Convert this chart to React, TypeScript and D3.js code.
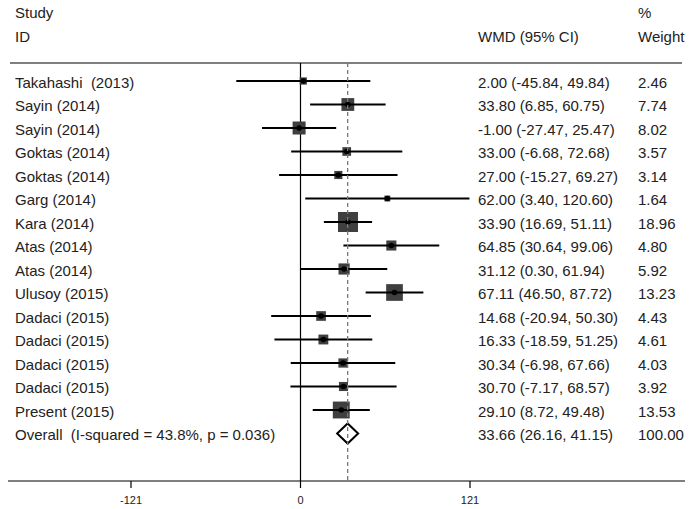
import React from "react";
import * as d3 from "d3";

const studies = [
  "Takahashi  (2013)", "Sayin (2014)", "Sayin (2014)", "Goktas (2014)", "Goktas (2014)",
  "Garg (2014)", "Kara (2014)", "Atas (2014)", "Atas (2014)", "Ulusoy (2015)",
  "Dadaci (2015)", "Dadaci (2015)", "Dadaci (2015)", "Dadaci (2015)", "Present (2015)",
];
const est = [2.0, 33.8, -1.0, 33.0, 27.0, 62.0, 33.9, 64.85, 31.12, 67.11, 14.68, 16.33, 30.34, 30.7, 29.1];
const lo = [-45.84, 6.85, -27.47, -6.68, -15.27, 3.4, 16.69, 30.64, 0.3, 46.5, -20.94, -18.59, -6.98, -7.17, 8.72];
const hi = [49.84, 60.75, 25.47, 72.68, 69.27, 120.6, 51.11, 99.06, 61.94, 87.72, 50.3, 51.25, 67.66, 68.57, 49.48];
const weights = [2.46, 7.74, 8.02, 3.57, 3.14, 1.64, 18.96, 4.8, 5.92, 13.23, 4.43, 4.61, 4.03, 3.92, 13.53];
const overallLabel = "Overall  (I-squared = 43.8%, p = 0.036)";
const overall = { est: 33.66, lo: 26.16, hi: 41.15, weight: 100.0 };
const ticks = [-121, 0, 121];

const fmt = (v: number) => v.toFixed(2);

export default function App() {
  const W = 693, H = 509;
  const x = d3.scaleLinear().domain([-121, 121]).range([131, 470]);
  const y = d3.scaleLinear().domain([0, 15]).range([81, 433.5]);
  const side = d3.scaleSqrt().domain([0, 18.96]).range([0, 20]);
  const font = "Liberation Sans, Arial, sans-serif";
  const txt = "#222";
  const topY = 63, axisY = 481;
  const dashX = x(overall.est);
  const oy = y(15);
  const pre = { whiteSpace: "pre" as const };

  return (
    <svg width={W} height={H} style={{ position: "absolute", left: 0, top: 0, background: "#fff" }} fontFamily={font}>
      <rect width={W} height={H} fill="#fff" />
      {/* headers */}
      <text x={15} y={18} fontSize={15} fill={txt}>Study</text>
      <text x={15} y={42} fontSize={15} fill={txt}>ID</text>
      <text x={478} y={42} fontSize={15} fill={txt}>WMD (95% CI)</text>
      <text x={638} y={18} fontSize={15} fill={txt}>%</text>
      <text x={638} y={42} fontSize={15} fill={txt}>Weight</text>
      <line x1={10} x2={682} y1={topY} y2={topY} stroke="#000" strokeWidth={1.2} />
      {/* zero line */}
      <line x1={x(0)} x2={x(0)} y1={topY} y2={axisY} stroke="#000" strokeWidth={1.2} />
      {/* rows */}
      {studies.map((s, i) => {
        const yy = y(i);
        const sd = side(weights[i]);
        return (
          <g key={i}>
            <text x={15} y={yy + 6.5} fontSize={15} fill={txt} style={pre}>{s}</text>
            <rect x={x(est[i]) - sd / 2} y={yy - sd / 2} width={sd} height={sd} fill="#3f3f3f" />
            <line x1={x(lo[i])} x2={x(hi[i])} y1={yy} y2={yy} stroke="#000" strokeWidth={1.8} />
            <circle cx={x(est[i])} cy={yy} r={2.8} fill="#000" />
            <text x={478} y={yy + 6.5} fontSize={15} fill={txt}>{`${fmt(est[i])} (${fmt(lo[i])}, ${fmt(hi[i])})`}</text>
            <text x={638} y={yy + 6.5} fontSize={15} fill={txt}>{fmt(weights[i])}</text>
          </g>
        );
      })}
      {/* overall */}
      <text x={15} y={oy + 6.5} fontSize={15} fill={txt} style={pre}>{overallLabel}</text>
      <path
        d={`M${x(overall.lo)},${oy} L${x(overall.est)},${oy - 10} L${x(overall.hi)},${oy} L${x(overall.est)},${oy + 10} Z`}
        fill="#fff" stroke="#000" strokeWidth={2} strokeLinejoin="miter"
      />
      <text x={478} y={oy + 6.5} fontSize={15} fill={txt}>{`${fmt(overall.est)} (${fmt(overall.lo)}, ${fmt(overall.hi)})`}</text>
      <text x={638} y={oy + 6.5} fontSize={15} fill={txt}>{fmt(overall.weight)}</text>
      {/* dashed overall line */}
      <line x1={dashX} x2={dashX} y1={topY} y2={axisY} stroke="#777" strokeWidth={1.3} strokeDasharray="4,3" />
      {/* axis */}
      <line x1={8} x2={685} y1={axisY} y2={axisY} stroke="#000" strokeWidth={1.2} />
      {ticks.map((t) => (
        <g key={t}>
          <line x1={x(t)} x2={x(t)} y1={axisY} y2={axisY + 7} stroke="#000" strokeWidth={1.2} />
          <text x={x(t)} y={axisY + 23} fontSize={11} textAnchor="middle" fill={txt}>{t}</text>
        </g>
      ))}
    </svg>
  );
}
